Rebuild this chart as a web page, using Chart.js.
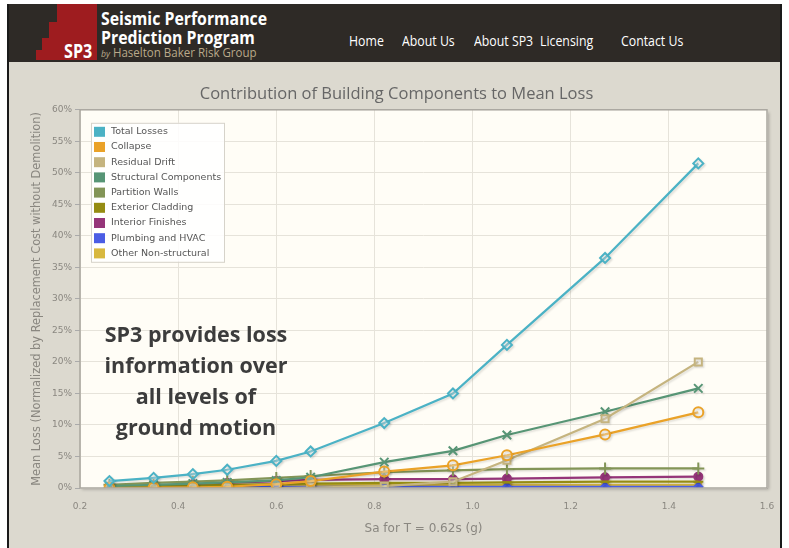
<!DOCTYPE html>
<html>
<head>
<meta charset="utf-8">
<script src="https://cdn.jsdelivr.net/npm/chart.js@4"></script>
<style>
  body { margin: 0; background: #fff; width: 789px; height: 548px; overflow: hidden; }
  #page { position: absolute; left: 7px; top: 4px; width: 771px; height: 544px;
          border-left: 2px solid #1a1a1a; border-right: 2px solid #1a1a1a; background: #dcd9cf; }
  #header { position: absolute; left: 0; top: 0; width: 771px; height: 58px; background: #2e2a26; }
  .brick { position: absolute; background: #9e1c1f; }
  #sp3 { position: absolute; left: 55px; top: 34px; color: #fff; font: bold 19px "Open Sans", sans-serif;
         transform: scaleX(0.85); transform-origin: left top; }
  .ttl { position: absolute; left: 92px; color: #fff; font: bold 18px "Open Sans", sans-serif;
         transform: scaleX(0.88); transform-origin: left top; white-space: nowrap; }
  #by { position: absolute; left: 92px; top: 40px; color: #b9a98a; font: 12px "Open Sans", sans-serif;
        transform: scaleX(0.96); transform-origin: left top; white-space: nowrap; }
  #by i { font-size: 9px; }
  .nav { position: absolute; top: 27px; color: #fff; font: 14px "Open Sans", sans-serif;
         transform: scaleX(0.88); transform-origin: left top; white-space: nowrap; }
  #chart { position: absolute; left: 1px; top: 58px; }
  #note { position: absolute; left: 87px; top: 314px; width: 200px; text-align: center;
          font: bold 21.5px/31px "Open Sans", sans-serif; color: #3c3c3c; white-space: nowrap; }
</style>
</head>
<body>
<div id="page">
  <div id="header">
    <div class="brick" style="left:48px;top:0;width:40px;height:56px"></div>
    <div class="brick" style="left:40px;top:18px;width:8px;height:38px"></div>
    <div class="brick" style="left:33px;top:34px;width:7px;height:22px"></div>
    <div class="brick" style="left:27px;top:46px;width:6px;height:10px"></div>
    <div id="sp3">SP3</div>
    <div class="ttl" style="top:2px">Seismic Performance</div>
    <div class="ttl" style="top:21px">Prediction Program</div>
    <div id="by"><i>by</i> Haselton Baker Risk Group</div>
    <div class="nav" style="left:340px">Home</div>
    <div class="nav" style="left:393px">About Us</div>
    <div class="nav" style="left:465px">About SP3</div>
    <div class="nav" style="left:531px">Licensing</div>
    <div class="nav" style="left:612px">Contact Us</div>
  </div>
  <canvas id="chart" width="772" height="486"></canvas>
  <div id="note">SP3 provides loss<br>information over<br>all levels of<br>ground motion</div>
</div>
<script>
  // ground motion levels, Sa(T=0.62s) in g
  const sa = [0.26, 0.35, 0.43, 0.50, 0.60, 0.67, 0.82, 0.96, 1.07, 1.27, 1.46];

  // mean loss contributions, % of replacement cost
  const totalLosses    = [1.1, 1.6, 2.2, 2.9, 4.3, 5.8, 10.3, 15.0, 22.7, 36.5, 51.5];
  const collapse       = [0.0, 0.05, 0.1, 0.2, 0.6, 1.1, 2.6, 3.6, 5.2, 8.5, 12.0];
  const residualDrift  = [0.0, 0.0, 0.0, 0.0, 0.0, 0.05, 0.3, 1.0, 4.4, 11.0, 20.0];
  const structural     = [0.3, 0.5, 0.7, 0.9, 1.2, 1.7, 4.1, 5.9, 8.4, 12.1, 15.8];
  const partitionWalls = [0.5, 0.8, 1.0, 1.2, 1.6, 1.9, 2.5, 2.8, 3.0, 3.1, 3.1];
  const exterior       = [0.2, 0.3, 0.4, 0.5, 0.6, 0.7, 0.8, 0.8, 0.9, 1.0, 1.0];
  const interior       = [0.2, 0.4, 0.6, 0.8, 1.1, 1.3, 1.4, 1.4, 1.5, 1.7, 1.8];
  const plumbing       = [0.1, 0.1, 0.1, 0.2, 0.2, 0.2, 0.2, 0.2, 0.2, 0.2, 0.2];
  const otherNonStruct = [0.4, 0.4, 0.4, 0.4, 0.5, 0.5, 0.5, 0.5, 0.5, 0.5, 0.5];

  const yTicks = [0, 5, 10, 15, 20, 25, 30, 35, 40, 45, 50, 55, 60];
  const xTicks = [0.2, 0.4, 0.6, 0.8, 1.0, 1.2, 1.4, 1.6];

  function pts(vals) {
    return vals.map((v, i) => ({ x: sa[i], y: v }));
  }

  function series(label, vals, color, style, radius, filled) {
    return {
      label: label,
      data: pts(vals),
      borderColor: color,
      backgroundColor: color,
      borderWidth: 2.2,
      pointStyle: style,
      pointRadius: radius,
      pointBorderWidth: 2,
      pointBorderColor: color,
      pointBackgroundColor: filled ? color : 'rgba(255,255,255,0.35)',
      tension: 0
    };
  }

  const datasets = [
    series('Total Losses', totalLosses, '#4bb2c5', 'rectRot', 5, false),
    series('Collapse', collapse, '#eaa228', 'circle', 5, false),
    series('Residual Drift', residualDrift, '#c5b47f', 'rect', 5, false),
    series('Structural Components', structural, '#579575', 'crossRot', 6, false),
    series('Partition Walls', partitionWalls, '#839557', 'cross', 6, false),
    series('Exterior Cladding', exterior, '#958c12', 'line', 5, false),
    series('Interior Finishes', interior, '#953579', 'circle', 4, true),
    series('Plumbing and HVAC', plumbing, '#4b5de4', 'rectRot', 4, true),
    series('Other Non-structural', otherNonStruct, '#d8b83f', 'rect', 4, true)
  ];

  // plot background + border like jqPlot
  const plotFrame = {
    id: 'plotFrame',
    beforeDraw(chart) {
      const { ctx, chartArea: a } = chart;
      ctx.save();
      ctx.shadowColor = 'rgba(0,0,0,0.25)';
      ctx.shadowOffsetX = 2;
      ctx.shadowOffsetY = 2;
      ctx.shadowBlur = 3;
      ctx.fillStyle = '#fffdf6';
      ctx.fillRect(a.left, a.top, a.right - a.left, a.bottom - a.top);
      ctx.restore();
    },
    beforeDatasetsDraw(chart) {
      const ctx = chart.ctx;
      ctx.save();
      ctx.shadowColor = 'rgba(0,0,0,0.12)';
      ctx.shadowOffsetX = 1.5;
      ctx.shadowOffsetY = 1.5;
      ctx.shadowBlur = 2;
    },
    afterDatasetsDraw(chart) {
      const { ctx, chartArea: a } = chart;
      ctx.restore();
      ctx.save();
      ctx.strokeStyle = '#a9a69e';
      ctx.lineWidth = 1.5;
      ctx.strokeRect(a.left, a.top, a.right - a.left, a.bottom - a.top);
      ctx.restore();
    }
  };

  // legend drawn inside the plot, top-left
  const insideLegend = {
    id: 'insideLegend',
    afterDraw(chart) {
      const ctx = chart.ctx;
      const x0 = chart.chartArea.left + 11, y0 = chart.chartArea.top + 13;
      const rowH = 15.2;
      ctx.save();
      ctx.fillStyle = 'rgba(255,255,255,0.85)';
      ctx.strokeStyle = '#d6d3ca';
      ctx.lineWidth = 1;
      ctx.fillRect(x0, y0, 133, 139);
      ctx.strokeRect(x0 + 0.5, y0 + 0.5, 133, 139);
      ctx.font = '9.5px "DejaVu Sans", sans-serif';
      ctx.textBaseline = 'middle';
      chart.data.datasets.forEach((ds, i) => {
        const cy = y0 + 9 + i * rowH;
        ctx.fillStyle = ds.borderColor;
        ctx.fillRect(x0 + 3, cy - 5, 11, 10);
        ctx.fillStyle = '#555';
        ctx.fillText(ds.label, x0 + 20, cy);
      });
      ctx.restore();
    }
  };

  new Chart(document.getElementById('chart'), {
    type: 'line',
    data: { datasets: datasets },
    options: {
      responsive: false,
      animation: false,
      layout: { padding: { left: 16, right: 15, top: 0, bottom: 0 } },
      plugins: {
        legend: { display: false },
        tooltip: { enabled: false },
        title: {
          display: true,
          text: 'Contribution of Building Components to Mean Loss',
          color: '#666',
          font: { family: '"Open Sans", sans-serif', size: 16.5, weight: 'normal' },
          padding: { top: 22, bottom: 6 }
        }
      },
      scales: {
        x: {
          type: 'linear',
          min: 0.2,
          max: 1.6,
          afterFit(scale) { scale.height = 60; },
          afterBuildTicks(scale) { scale.ticks = xTicks.map(v => ({ value: v })); },
          ticks: {
            color: '#8a8780',
            font: { family: '"DejaVu Sans", sans-serif', size: 9 },
            padding: 5,
            callback: v => v.toFixed(1)
          },
          grid: { color: '#e6e3da', tickLength: 8, tickColor: 'transparent' },
          border: { display: false },
          title: {
            display: true,
            text: 'Sa for T = 0.62s (g)',
            color: '#8a8780',
            font: { family: '"DejaVu Sans", sans-serif', size: 12 },
            padding: { top: 0, bottom: 12 }
          }
        },
        y: {
          min: 0,
          max: 60,
          afterFit(scale) { scale.width = 54; },
          afterBuildTicks(scale) { scale.ticks = yTicks.map(v => ({ value: v })); },
          ticks: {
            color: '#8a8780',
            font: { family: '"DejaVu Sans", sans-serif', size: 9 },
            padding: 3,
            callback: v => v + '%'
          },
          grid: { color: '#e6e3da', tickLength: 5, tickColor: '#aaa' },
          border: { display: false },
          title: {
            display: true,
            text: 'Mean Loss (Normalized by Replacement Cost without Demolition)',
            color: '#8a8780',
            font: { family: '"DejaVu Sans", sans-serif', size: 11.4 },
            padding: { top: 4, bottom: 0 }
          }
        }
      }
    },
    plugins: [plotFrame, insideLegend]
  });
</script>
</body>
</html>
